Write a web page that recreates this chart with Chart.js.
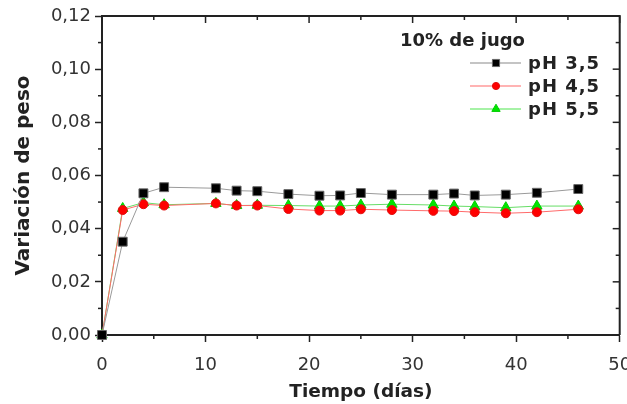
<!DOCTYPE html>
<html>
<head>
<meta charset="utf-8">
<script src="https://cdn.jsdelivr.net/npm/chart.js@4/dist/chart.umd.min.js"></script>
<style>
  html, body { margin: 0; padding: 0; background: #fff; }
  #wrap { width: 627px; height: 404px; }
</style>
</head>
<body>
<div id="wrap"><canvas id="pesoChart" width="627" height="404"></canvas></div>
<script>
// data
const days  = [0, 2, 4, 6, 11, 13, 15, 18, 21, 23, 25, 28, 32, 34, 36, 39, 42, 46];
const ph35  = [0, 0.0351, 0.0533, 0.0556, 0.0552, 0.0543, 0.0541, 0.0530, 0.0524, 0.0525, 0.0534, 0.0528, 0.0528, 0.0532, 0.0525, 0.0528, 0.0535, 0.0549];
const ph45  = [0, 0.0470, 0.0492, 0.0487, 0.0495, 0.0487, 0.0487, 0.0474, 0.0468, 0.0468, 0.0473, 0.0470, 0.0467, 0.0466, 0.0462, 0.0458, 0.0462, 0.0473];
const ph55  = [0, 0.0476, 0.0498, 0.0490, 0.0495, 0.0487, 0.0488, 0.0487, 0.0485, 0.0485, 0.0489, 0.0492, 0.0489, 0.0485, 0.0483, 0.0479, 0.0485, 0.0485];
const seriesNames = ['pH 3,5', 'pH 4,5', 'pH 5,5'];
const legendTitle = '10% de jugo';
const xTickLabels = ['0', '10', '20', '30', '40', '50'];
const yTickLabels = ['0,00', '0,02', '0,04', '0,06', '0,08', '0,10', '0,12'];
const xTitle = 'Tiempo (días)';
const yTitle = 'Variación de peso';

const pts = arr => arr.map((v, i) => ({ x: days[i], y: v }));

// box frame + minor / mirrored ticks
const frame = {
  id: 'frame',
  beforeDatasetsDraw(chart) {
    const { ctx, chartArea: a, scales: { x, y } } = chart;
    const line = (x1, y1, x2, y2) => { ctx.beginPath(); ctx.moveTo(x1, y1); ctx.lineTo(x2, y2); ctx.stroke(); };
    ctx.save();
    ctx.strokeStyle = '#222';
    ctx.lineWidth = 2;
    ctx.beginPath();
    ctx.moveTo(a.left, a.top); ctx.lineTo(a.right, a.top); ctx.lineTo(a.right, a.bottom);
    ctx.stroke();
    ctx.lineWidth = 1.5;
    for (let i = 0; i <= 10; i++) {
      const px = x.getPixelForValue(i * 5);
      const major = i % 2 === 0;
      if (!major) line(px, a.bottom, px, a.bottom + 4);
      line(px, a.top, px, a.top + (major ? 7 : 4));
    }
    for (let i = 0; i <= 12; i++) {
      const py = y.getPixelForValue(i * 0.01);
      const major = i % 2 === 0;
      if (!major) line(a.left - 4, py, a.left, py);
      line(a.right - (major ? 7 : 4), py, a.right, py);
    }
    ctx.restore();
  }
};

// legend with line-marker-line samples
const sideLegend = {
  id: 'sideLegend',
  afterDraw(chart) {
    const { ctx } = chart;
    ctx.save();
    ctx.fillStyle = '#222';
    ctx.textBaseline = 'middle';
    ctx.textAlign = 'left';
    ctx.font = 'bold 18px "DejaVu Sans"';
    ctx.fillText(legendTitle, 400, 41);
    ctx.font = 'bold 18px "DejaVu Sans"';
    ctx.letterSpacing = '1px';
    chart.data.datasets.forEach((ds, i) => {
      const yy = 63 + i * 23;
      ctx.strokeStyle = ds.legendLine;
      ctx.lineWidth = 1.5;
      ctx.beginPath(); ctx.moveTo(470, yy); ctx.lineTo(521, yy); ctx.stroke();
      ctx.fillStyle = ds.pointBackgroundColor;
      ctx.strokeStyle = ds.pointBorderColor;
      ctx.lineWidth = 1;
      Chart.helpers.drawPoint(ctx, { pointStyle: ds.pointStyle, radius: ds.pointRadius * 0.8, borderWidth: 1 }, 496, yy);
      ctx.fillStyle = '#222';
      ctx.fillText(ds.label, 528, yy + 1);
    });
    ctx.restore();
  }
};

const ctx = document.getElementById('pesoChart').getContext('2d');
const pesoChart = new Chart(ctx, {
  type: 'line',
  data: {
    datasets: [
      { label: seriesNames[0], data: pts(ph35), borderColor: '#9a9a9a', legendLine: '#b0b0b0', borderWidth: 1,
        pointStyle: 'rect', pointRadius: 6.3, pointBackgroundColor: '#000', pointBorderColor: '#666', pointBorderWidth: 1 },
      { label: seriesNames[1], data: pts(ph45), borderColor: '#ff6a6a', legendLine: '#ff9a9a', borderWidth: 1,
        pointStyle: 'circle', pointRadius: 4.5, pointBackgroundColor: '#ff0000', pointBorderColor: '#e01010', pointBorderWidth: 1 },
      { label: seriesNames[2], data: pts(ph55), borderColor: '#66dd66', legendLine: '#88ee88', borderWidth: 1,
        pointStyle: 'triangle', pointRadius: 6, pointBackgroundColor: '#00e600', pointBorderColor: '#00cc00', pointBorderWidth: 1 }
    ]
  },
  options: {
    responsive: false,
    animation: false,
    clip: false,
    layout: { padding: { left: 0, right: 2, top: 16, bottom: 0 } },
    plugins: { legend: { display: false }, tooltip: { enabled: false } },
    elements: { line: { tension: 0 } },
    scales: {
      x: {
        type: 'linear', min: 0, max: 50,
        border: { display: true, color: '#222', width: 2 },
        grid: { display: true, drawOnChartArea: false, drawTicks: true, tickLength: 7, tickColor: '#222', tickWidth: 1.5 },
        ticks: { stepSize: 10, padding: 13, color: '#333', font: { family: 'DejaVu Sans', size: 18 },
          maxRotation: 0, autoSkip: false,
          callback: v => xTickLabels[Math.round(v / 10)] },
        title: { display: true, text: xTitle, color: '#222', font: { family: 'DejaVu Sans', size: 18.5, weight: 'bold' },
          padding: { top: 0, bottom: 1 } },
        afterFit: s => { s.height = 69; s.paddingLeft = 0; s.paddingRight = 0; }
      },
      y: {
        min: 0, max: 0.12,
        border: { display: true, color: '#222', width: 2 },
        grid: { display: true, drawOnChartArea: false, drawTicks: true, tickLength: 7, tickColor: '#222', tickWidth: 1.5 },
        ticks: { stepSize: 0.02, padding: 4, color: '#333', font: { family: 'DejaVu Sans', size: 18 },
          callback: v => yTickLabels[Math.round(v / 0.02)] },
        title: { display: true, text: yTitle, color: '#222', font: { family: 'DejaVu Sans', size: 20, weight: 'bold' },
          padding: { top: 12, bottom: 0 } },
        afterFit: s => { s.width = 102; }
      }
    }
  },
  plugins: [frame, sideLegend]
});
</script>
</body>
</html>
